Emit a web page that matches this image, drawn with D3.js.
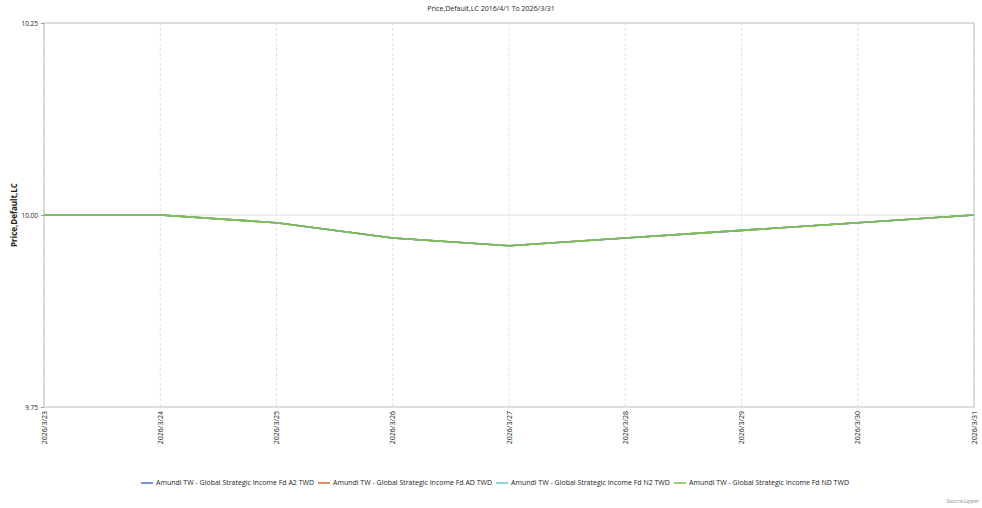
<!DOCTYPE html>
<html>
<head>
<meta charset="utf-8">
<script src="https://cdn.jsdelivr.net/npm/d3@7"></script>
<style>
  body { margin: 0; background: #fff; }
  svg { font-family: "Open Sans", "Liberation Sans", sans-serif; }
  .grid line { stroke: #e0e0e0; }
</style>
</head>
<body>
<svg width="982" height="508"></svg>
<script>
const dates = ['2026/3/23', '2026/3/24', '2026/3/25', '2026/3/26', '2026/3/27', '2026/3/28', '2026/3/29', '2026/3/30', '2026/3/31'];
const seriesNames = [
  'Amundi TW - Global Strategic Income Fd A2 TWD',
  'Amundi TW - Global Strategic Income Fd AD TWD',
  'Amundi TW - Global Strategic Income Fd N2 TWD',
  'Amundi TW - Global Strategic Income Fd ND TWD'
];
const seriesColors = ['#4472c4', '#e2622b', '#5bc4d6', '#7cc24a'];
const priceA2 = [10.00, 10.00, 9.99, 9.97, 9.96, 9.97, 9.98, 9.99, 10.00];
const priceAD = [10.00, 10.00, 9.99, 9.97, 9.96, 9.97, 9.98, 9.99, 10.00];
const priceN2 = [10.00, 10.00, 9.99, 9.97, 9.96, 9.97, 9.98, 9.99, 10.00];
const priceND = [10.00, 10.00, 9.99, 9.97, 9.96, 9.97, 9.98, 9.99, 10.00];
const yTicks = [9.75, 10.00, 10.25];

const allSeries = [priceA2, priceAD, priceN2, priceND];

const plotLeft = 44, plotRight = 974, plotTop = 23, plotBottom = 407;
const svg = d3.select("svg");

const x = d3.scalePoint().domain(dates).range([plotLeft, plotRight]);
const y = d3.scaleLinear().domain([9.75, 10.25]).range([plotBottom, plotTop]);

// title
svg.append("text")
   .attr("x", 491).attr("y", 11)
   .attr("text-anchor", "middle")
   .attr("font-size", 7).attr("fill", "#222")
   .text("Price,Default,LC 2016/4/1 To 2026/3/31");

// vertical dashed grid
svg.append("g").attr("class", "grid")
   .selectAll("line").data(dates).enter().append("line")
   .attr("x1", d => x(d)).attr("x2", d => x(d))
   .attr("y1", plotTop).attr("y2", plotBottom)
   .attr("stroke-dasharray", "3,2");

// horizontal grid
svg.append("g").attr("class", "grid")
   .selectAll("line").data(yTicks.slice(1, -1)).enter().append("line")
   .attr("x1", plotLeft).attr("x2", plotRight)
   .attr("y1", d => y(d)).attr("y2", d => y(d));

// box
svg.append("rect")
   .attr("x", plotLeft).attr("y", plotTop)
   .attr("width", plotRight - plotLeft).attr("height", plotBottom - plotTop)
   .attr("fill", "none").attr("stroke", "#c8c8c8").attr("stroke-width", 1.2);

// y axis
var yAxis = d3.axisLeft(y).tickValues(yTicks).tickSize(3).tickFormat(d3.format(".2f"));
svg.append("g")
   .attr("transform", "translate(" + plotLeft + ",0)")
   .call(yAxis)
   .call(g => {
     g.select(".domain").remove();
     g.selectAll(".tick line").attr("stroke", "#999");
     g.selectAll(".tick text").attr("font-size", 6.5).attr("fill", "#222")
      .attr("font-family", "'Open Sans', sans-serif");
   });

// x axis
var xAxis = d3.axisBottom(x).tickSize(0).tickPadding(0);
svg.append("g")
   .attr("transform", "translate(0," + plotBottom + ")")
   .call(xAxis)
   .call(g => {
     g.select(".domain").remove();
     g.selectAll(".tick text")
      .attr("font-size", 7).attr("fill", "#222")
      .attr("font-family", "'Open Sans', sans-serif")
      .attr("text-anchor", "end")
      .attr("dy", null)
      .attr("transform", "translate(2,4) rotate(-90)");
   });

// y axis title
svg.append("text")
   .attr("transform", "translate(17," + y(10.0) + ") rotate(-90)")
   .attr("text-anchor", "middle")
   .attr("font-size", 8).attr("font-weight", "bold").attr("fill", "#222")
   .text("Price,Default,LC");

// lines
var line = d3.line().x((d, i) => x(dates[i])).y(d => y(d));
svg.append("g").selectAll("path").data(allSeries).enter().append("path")
   .attr("d", d => line(d))
   .attr("fill", "none")
   .attr("stroke", (d, i) => seriesColors[i])
   .attr("stroke-width", 1.6);

// legend
var legendX = [141, 318, 496, 674];
var legend = svg.append("g").selectAll("g").data(seriesNames).enter().append("g")
   .attr("transform", (d, i) => "translate(" + legendX[i] + ",483)");
legend.append("line")
   .attr("x1", 0).attr("x2", 12)
   .attr("stroke", (d, i) => seriesColors[i]).attr("stroke-width", 1.5);
legend.append("text")
   .attr("x", 15).attr("dy", "0.35em")
   .attr("font-size", 7).attr("fill", "#222")
   .text(d => d);

// source
svg.append("text")
   .attr("x", 979).attr("y", 503)
   .attr("text-anchor", "end")
   .attr("font-size", 5).attr("fill", "#888")
   .text("Source:Lipper");
</script>
</body>
</html>
